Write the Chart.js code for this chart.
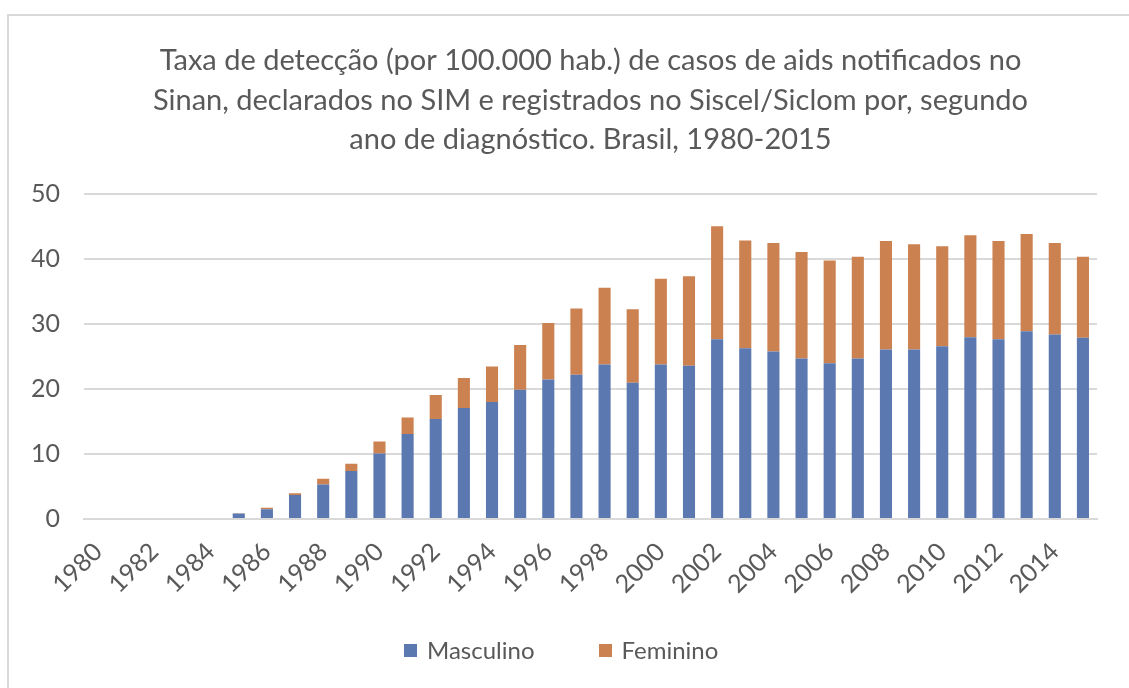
<!DOCTYPE html>
<html>
<head>
<meta charset="utf-8">
<script src="https://cdn.jsdelivr.net/npm/chart.js@4"></script>
<style>
    body { margin: 0; background: #fff; }
    #frame {
        position: absolute;
        left: 7px;
        top: 14px;
        width: 1130px;
        height: 680px;
        border-left: 2px solid #d9d9d9;
        border-top: 2px solid #d9d9d9;
    }
    #myChart { display: block; }
    #legend {
        position: absolute;
        left: 404px;
        top: 635px;
        display: flex;
        gap: 64px;
        font-family: Lato, sans-serif;
        font-size: 24px;
        line-height: 30px;
        color: #595959;
    }
    #legend .item { display: flex; align-items: center; }
    #legend .box { width: 13px; height: 13px; margin-right: 10px; }
</style>
</head>
<body>
<div id="frame"><canvas id="myChart" width="1120" height="672"></canvas></div>
<div id="legend"></div>
<script>
const years = ['1980', '1981', '1982', '1983', '1984', '1985', '1986', '1987', '1988', '1989',
    '1990', '1991', '1992', '1993', '1994', '1995', '1996', '1997', '1998', '1999',
    '2000', '2001', '2002', '2003', '2004', '2005', '2006', '2007', '2008', '2009',
    '2010', '2011', '2012', '2013', '2014', '2015'];

const masculino = [0, 0, 0, 0, 0, 0.85, 1.5, 3.7, 5.3, 7.4,
    10.1, 13.1, 15.4, 17.1, 18.0, 19.9, 21.5, 22.2, 23.8, 21.0,
    23.8, 23.6, 27.7, 26.3, 25.8, 24.7, 24.0, 24.7, 26.1, 26.1,
    26.6, 28.0, 27.7, 28.9, 28.4, 27.9];

const feminino = [0, 0, 0, 0, 0, 0.05, 0.25, 0.25, 0.9, 1.1,
    1.85, 2.55, 3.7, 4.6, 5.5, 6.9, 8.7, 10.2, 11.8, 11.3,
    13.2, 13.8, 17.4, 16.6, 16.7, 16.4, 15.8, 15.7, 16.7, 16.2,
    15.4, 15.7, 15.1, 15.0, 14.1, 12.5];

const titleLines = [
    'Taxa de detecção (por 100.000 hab.) de casos de aids notificados no',
    'Sinan, declarados no SIM e registrados no Siscel/Siclom por, segundo',
    'ano de diagnóstico. Brasil, 1980-2015'
];

const textColor = '#595959';
const fontName = 'Lato';

const ctx = document.getElementById('myChart');

const chart = new Chart(ctx, {
    type: 'bar',
    data: {
        labels: years,
        datasets: [
            {
                label: 'Masculino',
                data: masculino,
                backgroundColor: '#5b79b0',
                barPercentage: 0.43,
                categoryPercentage: 1
            },
            {
                label: 'Feminino',
                data: feminino,
                backgroundColor: '#cc8150',
                barPercentage: 0.43,
                categoryPercentage: 1
            }
        ]
    },
    options: {
        responsive: false,
        animation: false,
        layout: {
            padding: {left: 0, right: 32, top: 0, bottom: 75}
        },
        plugins: {
            title: {
                display: true,
                fullSize: false,
                text: titleLines,
                color: textColor,
                font: {family: fontName, size: 29, weight: 'normal', lineHeight: 1.36},
                padding: {top: 25, bottom: 35}
            },
            legend: {display: false},
            tooltip: {enabled: false}
        },
        scales: {
            x: {
                stacked: true,
                grid: {display: false, drawTicks: false},
                border: {display: true, color: '#d9d9d9', width: 2},
                ticks: {
                    color: textColor,
                    font: {family: fontName, size: 25},
                    autoSkip: false,
                    maxRotation: 45,
                    minRotation: 45,
                    padding: 18,
                    callback: function (value, index) {
                        return index % 2 === 0 ? years[index] : '';
                    }
                },
                afterFit: function (scale) {
                    scale.height = 94;
                }
            },
            y: {
                stacked: true,
                min: 0,
                max: 50,
                grid: {color: '#d9d9d9', lineWidth: 2, drawTicks: false},
                border: {display: false},
                ticks: {
                    stepSize: 10,
                    color: textColor,
                    font: {family: fontName, size: 25},
                    padding: 24
                },
                afterFit: function (scale) {
                    scale.width = 75;
                }
            }
        }
    }
});

// legend as html, built from the datasets
const legend = document.getElementById('legend');
chart.data.datasets.forEach(ds => {
    const item = document.createElement('span');
    item.className = 'item';
    const box = document.createElement('span');
    box.className = 'box';
    box.style.background = ds.backgroundColor;
    item.appendChild(box);
    item.appendChild(document.createTextNode(ds.label));
    legend.appendChild(item);
});
</script>
</body>
</html>
